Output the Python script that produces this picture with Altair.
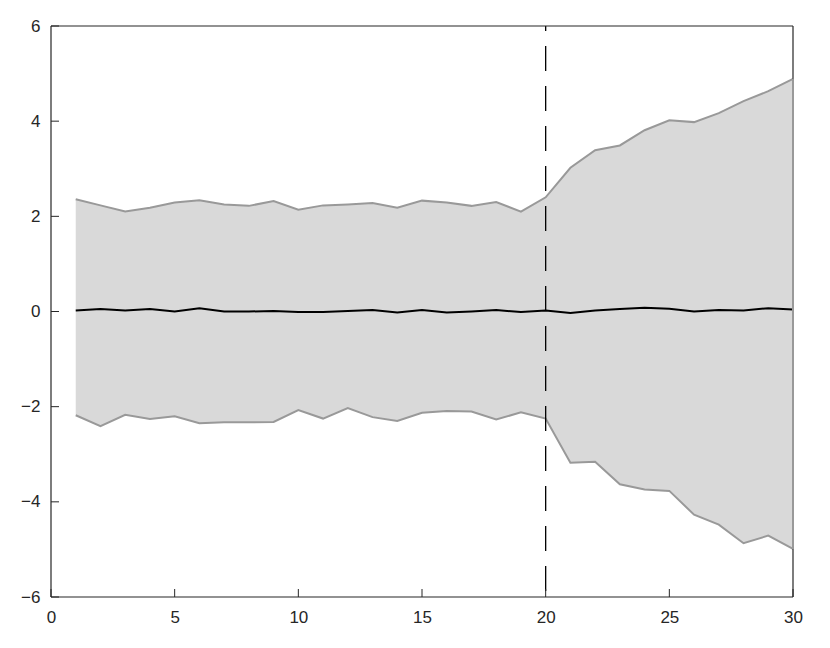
import altair as alt
import pandas as pd

steps = list(range(1, 31))
upper = [2.36, 2.23, 2.10, 2.18, 2.29, 2.34, 2.25, 2.22, 2.32, 2.14,
         2.23, 2.25, 2.28, 2.18, 2.33, 2.29, 2.22, 2.30, 2.10, 2.40,
         3.02, 3.39, 3.49, 3.81, 4.02, 3.98, 4.17, 4.42, 4.63, 4.89]
lower = [-2.18, -2.41, -2.17, -2.26, -2.20, -2.35, -2.33, -2.33, -2.32, -2.07,
         -2.25, -2.03, -2.22, -2.30, -2.13, -2.09, -2.10, -2.27, -2.12, -2.25,
         -3.18, -3.16, -3.63, -3.74, -3.77, -4.27, -4.48, -4.87, -4.71, -4.99]
mean = [0.02, 0.05, 0.02, 0.05, 0.00, 0.07, 0.00, 0.00, 0.01, -0.01,
        -0.01, 0.01, 0.03, -0.02, 0.03, -0.02, 0.00, 0.03, -0.01, 0.02,
        -0.03, 0.02, 0.05, 0.08, 0.06, 0.00, 0.03, 0.02, 0.07, 0.04]
split_at = [20]
x_ticks = [0, 5, 10, 15, 20, 25, 30]
y_ticks = [-6, -4, -2, 0, 2, 4, 6]

df = pd.DataFrame({"x": steps, "upper": upper, "lower": lower, "mean": mean})
W, H = 742, 571

xs = alt.Scale(domain=[0, 30], nice=False, zero=False)
ys = alt.Scale(domain=[-6, 6], nice=False, zero=False)
font = "Liberation Sans"
xaxis = alt.Axis(values=x_ticks, ticks=False, grid=False, domain=False,
                 labelFont=font, labelFontSize=17, labelColor="#262626",
                 labelPadding=12, title=None, labelFlush=False)
yaxis = alt.Axis(values=y_ticks, ticks=False, grid=False, domain=False,
                 labelFont=font, labelFontSize=17, labelColor="#262626",
                 labelPadding=11, title=None, labelFlush=False)

base = alt.Chart(df)
area = base.mark_area(color="#d9d9d9", opacity=1).encode(
    x=alt.X("x:Q", scale=xs, axis=xaxis),
    y=alt.Y("upper:Q", scale=ys, axis=yaxis),
    y2="lower:Q",
)
up_line = base.mark_line(color="#999999", strokeWidth=2).encode(
    x=alt.X("x:Q", scale=xs), y=alt.Y("upper:Q", scale=ys))
lo_line = base.mark_line(color="#999999", strokeWidth=2).encode(
    x=alt.X("x:Q", scale=xs), y=alt.Y("lower:Q", scale=ys))
mean_line = base.mark_line(color="#000000", strokeWidth=2).encode(
    x=alt.X("x:Q", scale=xs), y=alt.Y("mean:Q", scale=ys))
vline = alt.Chart(pd.DataFrame({"x": split_at, "a": [6], "b": [-6]})).mark_rule(
    color="#000000", strokeWidth=1.3, strokeDash=[25, 15], strokeDashOffset=20).encode(
    x=alt.X("x:Q", scale=xs), y=alt.Y("a:Q", scale=ys), y2="b:Q")

xt = alt.Chart(pd.DataFrame({"t": x_ticks})).mark_rule(color="#262626", strokeWidth=1).encode(
    x=alt.X("t:Q", scale=xs), y=alt.value(H), y2=alt.value(H - 8))
yt = alt.Chart(pd.DataFrame({"t": y_ticks})).mark_rule(color="#262626", strokeWidth=1).encode(
    y=alt.Y("t:Q", scale=ys), x=alt.value(0), x2=alt.value(8))

# plot box drawn as rules along the domain edges
box_v = alt.Chart(pd.DataFrame({"t": [0, 30]})).mark_rule(color="#262626", strokeWidth=1.2).encode(
    x=alt.X("t:Q", scale=xs), y=alt.value(0), y2=alt.value(H))
box_h = alt.Chart(pd.DataFrame({"t": [-6, 6]})).mark_rule(color="#262626", strokeWidth=1.2).encode(
    y=alt.Y("t:Q", scale=ys), x=alt.value(0), x2=alt.value(W))
edge = alt.Chart(pd.DataFrame({"x": [30], "a": [upper[-1]], "b": [lower[-1]]})).mark_rule(
    color="#999999", strokeWidth=2).encode(
    x=alt.X("x:Q", scale=xs), y=alt.Y("a:Q", scale=ys), y2="b:Q")

chart = alt.layer(area, up_line, lo_line, mean_line, vline, xt, yt, box_v, box_h, edge).properties(
    width=W, height=H,
    background="white",
    autosize=alt.AutoSizeParams(type="none"),
    padding={"left": 43, "top": 18, "right": 20, "bottom": 40},
).configure_view(stroke=None)

chart.save("out.html", embed_options={"renderer": "svg", "actions": False})
